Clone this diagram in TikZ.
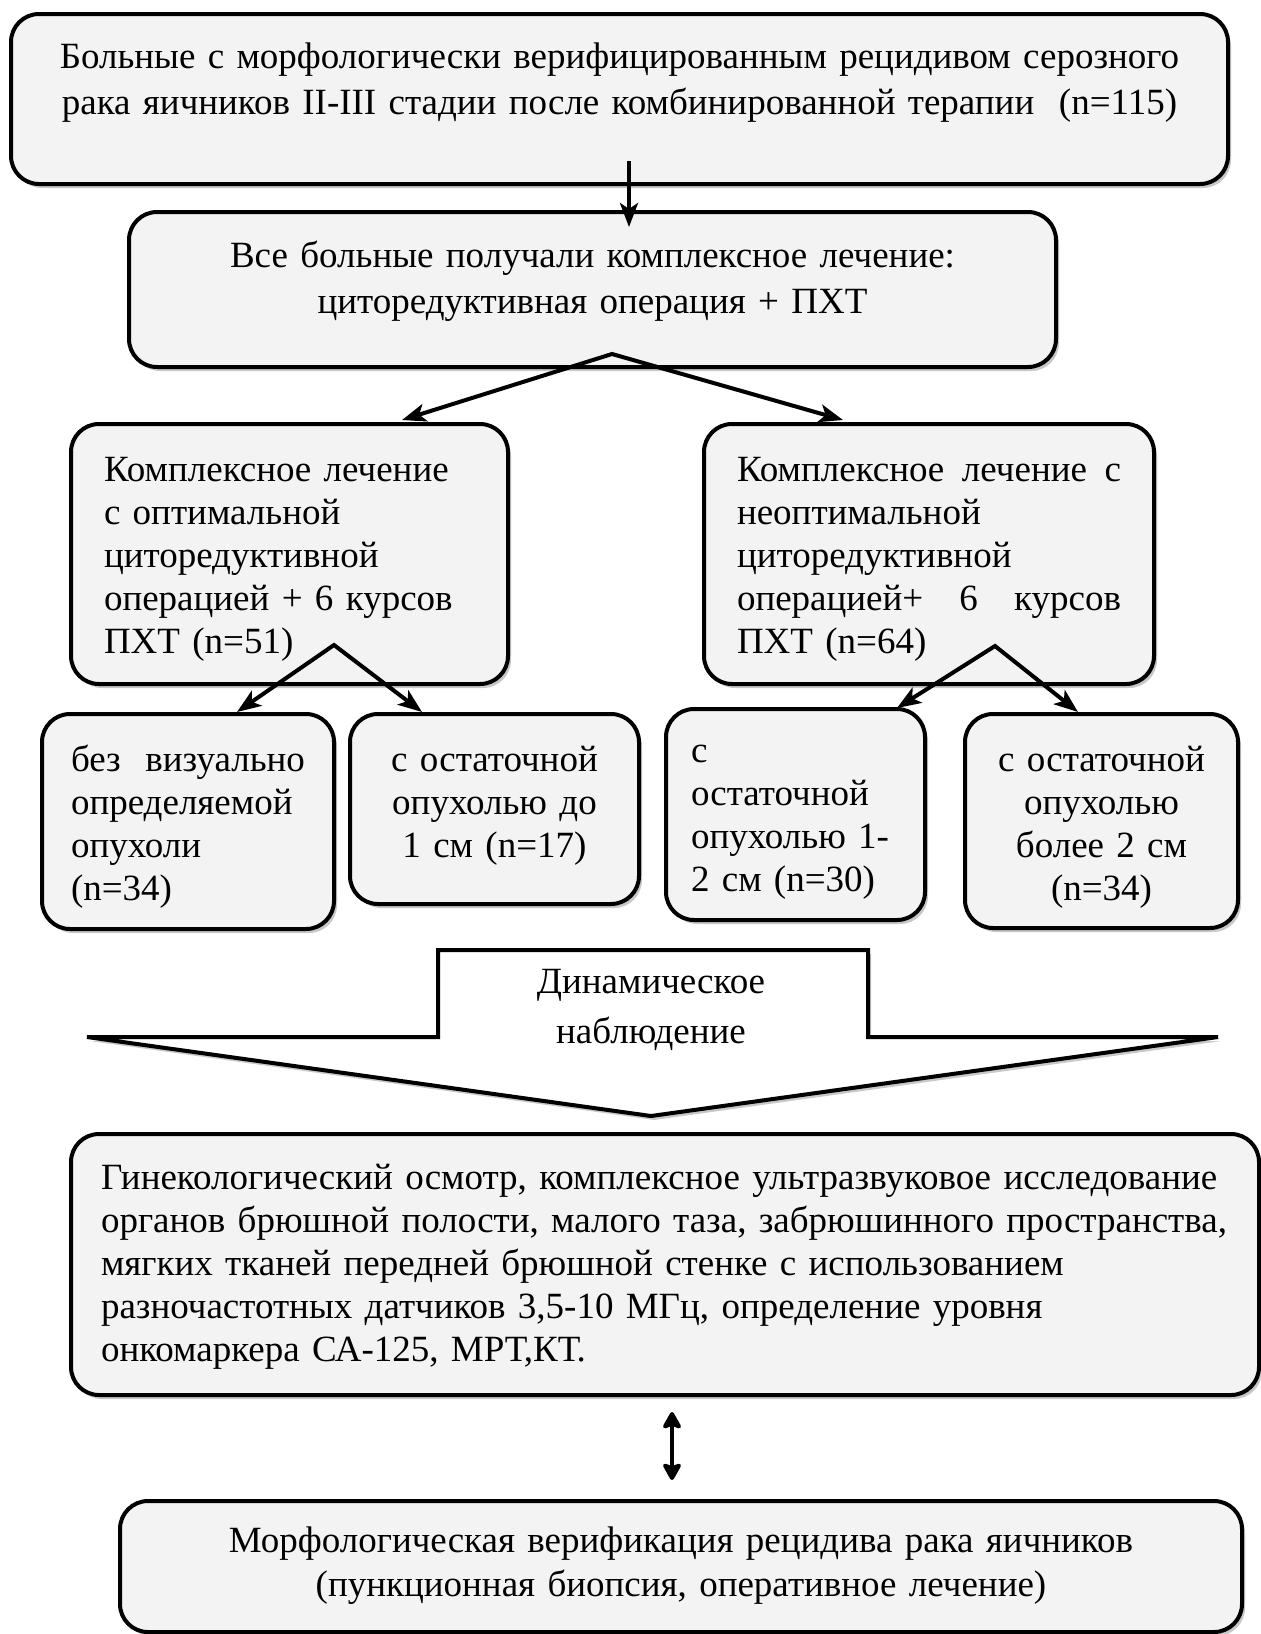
\documentclass[tikz,border=0pt]{standalone}
\usepackage{fontspec}
\setmainfont{Liberation Serif}
\usetikzlibrary{arrows.meta,calc,shadows}

\definecolor{boxgray}{RGB}{243,243,243}
\definecolor{shadowgray}{RGB}{200,200,200}

\tikzset{
  box/.style={draw, line width=2pt, rounded corners=14pt, fill=boxgray,
    drop shadow={shadow xshift=1.5pt, shadow yshift=-2pt, fill=shadowgray, opacity=1},
    anchor=north, inner ysep=0pt, font=\fontsize{18.5}{21.5}\selectfont},
  arr/.style={line width=2pt, -{Stealth[length=12pt, width=9pt, inset=3pt]}},
  split/.style={line width=2pt, {Stealth[length=12pt, width=9pt, inset=3pt]}-{Stealth[length=12pt, width=9pt, inset=3pt]}},
  both/.style={line width=2pt, {Stealth[round, length=10pt, width=11pt, inset=2pt]}-{Stealth[round, length=10pt, width=11pt, inset=2pt]}},
}

\begin{document}
\begin{tikzpicture}[x=0.5pt, y=-0.5pt]

    \useasboundingbox (0,0) rectangle (1261,1634);

    % Top boxes
    \node[box, text width=608.5pt, inner xsep=0pt, text height=27pt, text depth=58pt, align=center,
      font=\fontsize{18.5}{23}\selectfont] (b1) at (619.5,12)
      {Больные с морфологически верифицированным рецидивом серозного\\
       рака яичников II-III стадии после комбинированной терапии~ (n=115)};
    \node[box, text width=463.5pt, inner xsep=0pt, text height=27.5pt, text depth=50pt, align=center,
      font=\fontsize{18.5}{23}\selectfont] (b2) at (592.5,210)
      {Все больные получали комплексное лечение:\\
       циторедуктивная операция + ПХТ};

    % Two groups
    \node[box, text width=185.5pt, inner xsep=16.5pt, text height=28.5pt, text depth=101.5pt, align=left] (b3) at (289.5,422)
      {Комплексное лечение\\ с оптимальной\\ циторедуктивной\\ операцией + 6 курсов\\ ПХТ (n=51)};
    \node[box, text width=192pt, inner xsep=16.5pt, text height=28.5pt, text depth=101.5pt, align=left] (b4) at (929,422)
      {Комплексное\hfill лечение\hfill с\\ неоптимальной\\ циторедуктивной\\ операцией+\hfill 6\hfill курсов\\ ПХТ (n=64)};

    % Small boxes
    \node[box, text width=117pt, inner xsep=14.5pt, text height=28.5pt, text depth=79pt, align=left] (bA) at (188,712)
      {без\hfill визуально\\ определяемой\\ опухоли\\ (n=34)};
    \node[box, text width=134.5pt, inner xsep=5pt, text height=28.5pt, text depth=66.5pt, align=center] (bB) at (494.5,712)
      {с остаточной\\ опухолью до\\ 1 см (n=17)};
    \node[box, text width=104.5pt, inner xsep=12.5pt, text height=26.5pt, text depth=79pt, align=left] (bC) at (795.5,707)
      {с\\ остаточной\\ опухолью 1-\\ 2 см (n=30)};
    \node[box, text width=126.5pt, inner xsep=5pt, text height=28.5pt, text depth=78.5pt, align=center] (bD) at (1101.5,712)
      {с остаточной\\ опухолью\\ более 2 см\\ (n=34)};

    % Big arrow
    \draw[line width=2pt, fill=white,
      drop shadow={shadow xshift=1.5pt, shadow yshift=-2pt, fill=shadowgray, opacity=1}]
      (87,1037) -- (438,1037) -- (438,950) -- (868,950) -- (868,1037) -- (1218,1037) -- (651,1116) -- cycle;
    \node[font=\fontsize{18.5}{25}\selectfont, align=center] (watch) at (651,1010) {Динамическое\\ наблюдение};

    % Bottom boxes
    \node[box, text width=564pt, inner xsep=15pt, text height=27.5pt, text depth=103pt, align=left] (b5) at (665,1132)
      {Гинекологический осмотр, комплексное ультразвуковое исследование\\
       органов брюшной полости, малого таза, забрюшинного пространства,\\
       мягких тканей передней брюшной стенке с использованием\\
       разночастотных датчиков 3,5-10 МГц, определение уровня\\
       онкомаркера СА-125, МРТ,КТ.};
    \node[box, text width=541pt, inner xsep=10pt, text height=25.5pt, text depth=40pt, align=center,
      font=\fontsize{18.5}{22}\selectfont] (b6) at (681,1499)
      {Морфологическая верификация рецидива рака яичников\\
       (пункционная биопсия, оперативное лечение)};

    % Arrows
    \draw[arr] ($(b1.south)+(9.5,-25)$) -- ($(b2.north)+(36.5,17)$);
    \coordinate (fork) at ($(b2.south)+(19.5,-15)$);
    \draw[split] ($(b3.north)+(112.5,-2)$) -- (fork) -- ($(b4.north)+(-86,-2)$);
    \coordinate (forkL) at ($(b3.south)+(44.5,-41)$);
    \draw[split] ($(bA.north)+(49,0)$) -- (forkL) -- ($(bB.north)+(-72.5,0)$);
    \coordinate (forkR) at ($(b4.south)+(66,-40)$);
    \draw[split] ($(bC.north)+(101.5,1)$) -- (forkR) -- ($(bD.north)+(-23.5,0)$);
    \draw[both] ($(b5.south)+(7,15)$) -- ($(b6.north)+(-9,-19)$);

\end{tikzpicture}
\end{document}
